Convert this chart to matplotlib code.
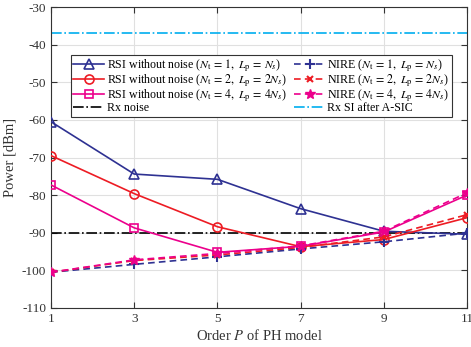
import matplotlib
matplotlib.use("Agg")
import matplotlib.pyplot as plt
import numpy as np

plt.rcParams['font.family'] = ['Liberation Serif', 'DejaVu Serif']
plt.rcParams['mathtext.fontset'] = 'stix'

order_p = [1, 3, 5, 7, 9, 11]
rsi_nt1 = [-60.5, -74.4, -75.8, -83.6, -89.6, -90.4]
rsi_nt2 = [-69.5, -79.6, -88.4, -93.7, -91.8, -86.0]
rsi_nt4 = [-77.3, -88.7, -95.2, -93.6, -89.8, -80.0]
nire_nt1 = [-100.5, -98.4, -96.4, -94.3, -92.4, -90.1]
nire_nt2 = [-100.5, -97.4, -95.9, -93.9, -91.1, -85.2]
nire_nt4 = [-100.5, -97.2, -95.5, -93.5, -89.6, -79.4]
rx_noise = -90.0
rx_si_asic = -37.0

xticks = [1, 3, 5, 7, 9, 11]
yticks = list(range(-110, -29, 10))

blue = '#2E3192'
red = '#ED1C24'
mag = '#EC008C'
cyan = '#00AEEF'

fig = plt.figure(figsize=(4.71, 3.47), dpi=100)
ax = fig.add_axes([51/471, 39/347, 416/471, 301/347])

ax.axhline(rx_si_asic, color=cyan, ls='-.', lw=1.2, zorder=2)
ax.axhline(rx_noise, color='black', ls='-.', lw=1.2, zorder=2)

def lab(pre, nt, lp):
    return pre + r' ($N_{\rm t}\,=\,' + nt + r',\ L_{\rm p}\,=\,' + lp + r'N_s$)'

dsh = (0, (4, 2.5))
ax.plot(order_p, rsi_nt1, color=blue, marker='^', ms=7, mfc='none', mew=1.2, lw=1.2, label=lab('RSI without noise', '1', ''), zorder=3)
ax.plot(order_p, rsi_nt2, color=red, marker='o', ms=6.5, mfc='none', mew=1.2, lw=1.2, label=lab('RSI without noise', '2', '2'), zorder=3)
ax.plot(order_p, rsi_nt4, color=mag, marker='s', ms=5.5, mfc='none', mew=1.2, lw=1.2, label=lab('RSI without noise', '4', '4'), zorder=3)
ax.plot([], [], color='black', ls='-.', lw=1.2, label='Rx noise')
ax.plot(order_p, nire_nt1, color=blue, marker='+', ms=7, mew=1.5, lw=1.2, ls=dsh, label=lab('NIRE', '1', ''), zorder=3)
ax.plot(order_p, nire_nt2, color=red, marker='x', ms=5, mew=1.5, lw=1.2, ls=dsh, label=lab('NIRE', '2', '2'), zorder=3)
ax.plot(order_p, nire_nt4, color=mag, marker='*', ms=7, mew=1.0, lw=1.2, ls=dsh, label=lab('NIRE', '4', '4'), zorder=3)
ax.plot([], [], color=cyan, ls='-.', lw=1.2, label='Rx SI after A-SIC')

ax.set_xlim(1, 11)
ax.set_ylim(-110, -30)
ax.set_xticks(xticks)
ax.set_yticks(yticks)
ax.set_xticklabels([str(v) for v in xticks])
ax.set_yticklabels([str(v) for v in yticks])
ax.tick_params(direction='in', top=True, right=True, labelsize=9.5, colors='#333333', length=4)
ax.grid(True, color='#E0E0E0', lw=0.8)
ax.set_axisbelow(True)
for s in ax.spines.values():
    s.set_color('#333333')
    s.set_linewidth(0.8)

ax.set_xlabel(r'Order $P$ of PH model', fontsize=10.5, color='#333333', labelpad=2)
ax.set_ylabel('Power [dBm]', fontsize=10.5, color='#333333', labelpad=4)

leg = ax.legend(loc='upper left', bbox_to_anchor=(0.048, 0.84), ncol=2, fontsize=8.6,
                frameon=True, fancybox=False, edgecolor='#333333', framealpha=1,
                handlelength=2.6, handletextpad=0.2, columnspacing=0.6,
                labelspacing=-0.12, borderpad=0.2, borderaxespad=0)
leg.get_frame().set_linewidth(0.8)

fig.savefig('out.png', dpi=100)
